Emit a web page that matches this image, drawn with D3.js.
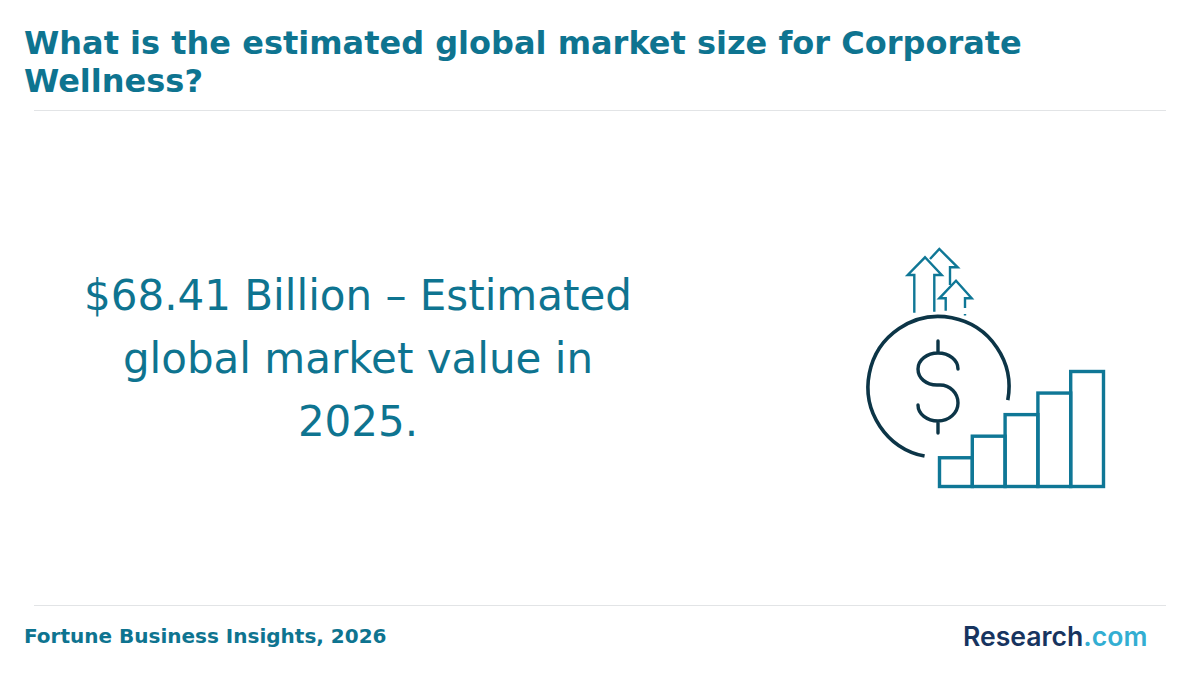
<!DOCTYPE html>
<html>
<head>
<meta charset="utf-8">
<script src="https://cdn.jsdelivr.net/npm/d3@7"></script>
<style>
  html, body { margin: 0; padding: 0; background: #fff; }
  svg { display: block; }
</style>
</head>
<body>
<svg id="chart" width="1200" height="680"></svg>
<script>
// text
var titleLines = ["What is the estimated global market size for Corporate", "Wellness?"];
var calloutLines = ["$68.41 Billion – Estimated", "global market value in", "2025."];
var sourceText = "Fortune Business Insights, 2026";
var logoParts = ["Research", ".com"];

// icon bars, relative heights
var barSteps = ["a", "b", "c", "d", "e"];
var barValues = [1, 1.75, 2.5, 3.25, 4];

var teal = "#0e7490", tealDark = "#0f7796", navy = "#0c3547";

var svg = d3.select("#chart");

svg.selectAll("text.title")
  .data(titleLines)
  .enter()
  .append("text")
  .attr("class", "title")
  .attr("x", 24)
  .attr("y", function(d, i) { return 54 + i * 38; })
  .attr("font-family", "DejaVu Sans")
  .attr("font-weight", "bold")
  .attr("font-size", 32)
  .attr("fill", teal)
  .text(function(d) { return d; });

// header and footer rules
svg.selectAll("line.rule")
  .data([110.5, 605.5])
  .enter()
  .append("line")
  .attr("class", "rule")
  .attr("x1", 34)
  .attr("x2", 1166)
  .attr("y1", function(d) { return d; })
  .attr("y2", function(d) { return d; })
  .attr("stroke", "#e2e4e6")
  .attr("stroke-width", 1);

svg.selectAll("text.callout")
  .data(calloutLines)
  .enter()
  .append("text")
  .attr("class", "callout")
  .attr("x", 358)
  .attr("y", function(d, i) { return 310 + i * 63; })
  .attr("text-anchor", "middle")
  .attr("font-family", "DejaVu Sans")
  .attr("font-size", 42)
  .attr("fill", teal)
  .text(function(d) { return d; });

svg.append("text")
  .attr("x", 24)
  .attr("y", 643)
  .attr("font-family", "DejaVu Sans")
  .attr("font-weight", "bold")
  .attr("font-size", 20)
  .attr("fill", teal)
  .text(sourceText);

// logo
var logo = svg.append("text")
  .attr("x", 963)
  .attr("y", 646)
  .attr("font-family", "Inter")
  .attr("font-weight", 600)
  .attr("font-size", 26.6);
logo.append("tspan").attr("fill", "#17345f").text(logoParts[0]);
logo.append("tspan").attr("fill", "#33aed2").text(logoParts[1]);

// stepped bars of the icon
var x = d3.scaleBand().domain(barSteps).range([939.5, 1103.5]).padding(0);
var y = d3.scaleLinear().domain([0, 4]).range([486.5, 371.5]);

svg.selectAll("rect.step")
  .data(barValues)
  .enter()
  .append("rect")
  .attr("class", "step")
  .attr("x", function(d, i) { return x(barSteps[i]); })
  .attr("y", function(d) { return y(d); })
  .attr("width", x.bandwidth())
  .attr("height", function(d) { return y(0) - y(d); })
  .attr("fill", "none")
  .attr("stroke", tealDark)
  .attr("stroke-width", 3.4);

// coin ring, open at the lower right
var ring = d3.arc()
  .innerRadius(70.5)
  .outerRadius(70.5)
  .startAngle(191.4 * Math.PI / 180)
  .endAngle(460.7 * Math.PI / 180);

svg.append("path")
  .attr("transform", "translate(938.5,387)")
  .attr("d", ring())
  .attr("fill", "none")
  .attr("stroke", navy)
  .attr("stroke-width", 3.6)
  .attr("stroke-linecap", "round");

// dollar sign
svg.append("path")
  .attr("d", "M958 369 C958 360 949 353 938 353 C927 353 918 360 918 369 C918 378 926 385 937 385 L940 385 C950 385 958 393 958 403 C958 413 949 421 938 421 C927 421 918 414 918 405 M938 341 L938 353 M938 421 L938 433")
  .attr("fill", "none")
  .attr("stroke", navy)
  .attr("stroke-width", 3.4)
  .attr("stroke-linecap", "round");

// three arrows above the coin
var arrows = [
  "M914.3 312.7 L914.3 275 L907.7 275 L925 257.3 L941.7 275 L934.3 275 L934.3 311.7",
  "M930 259 L939.3 249 L957.7 267.3 L950 267.3 L950 285",
  "M945.7 310.7 L945.7 298.3 L939.3 298.3 L956 280.7 L971.7 298.3 L965 298.3 L965 308 M965 314 L965 315.5"
];

svg.selectAll("path.arrow")
  .data(arrows)
  .enter()
  .append("path")
  .attr("class", "arrow")
  .attr("d", function(d) { return d; })
  .attr("fill", "none")
  .attr("stroke", tealDark)
  .attr("stroke-width", 2.4);
</script>
</body>
</html>
